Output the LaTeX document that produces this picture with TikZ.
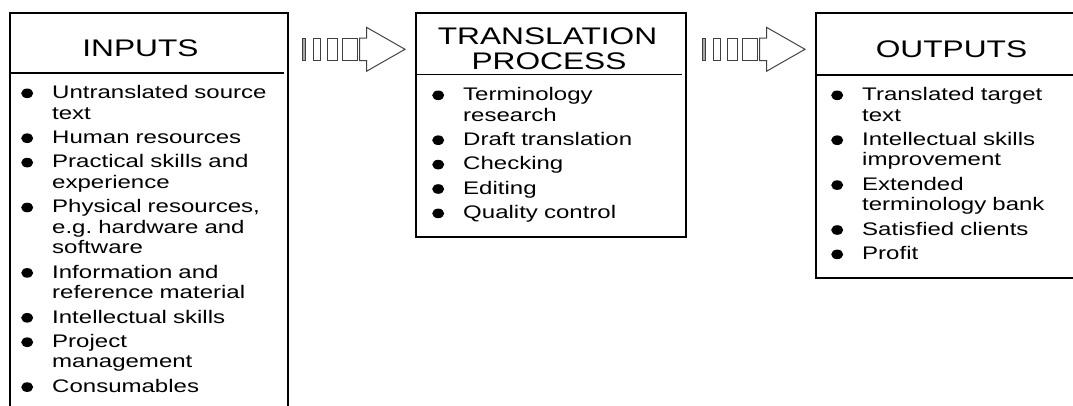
\documentclass[tikz,border=0pt]{standalone}
\usepackage{fontspec}
\setmainfont{Liberation Sans}[FakeStretch=1.32]
\usetikzlibrary{calc}

% round bullet drawn as a filled ellipse sitting at x-height
\newcommand\bulletdot{\tikz[baseline=0pt]{\path (0pt,0pt) rectangle (12pt,10.2pt);\fill (6pt,5.2pt) ellipse [x radius=6pt, y radius=4.8pt];}}
% bullet list item with a hanging indent; each item ends its own paragraph
\newcommand\bitem[1]{\hangindent=30pt\hangafter=1\noindent
  \makebox[30pt][l]{\hspace*{-1pt}\bulletdot}#1\par}

\tikzset{
  frame/.style={draw=black, line width=1.5pt, rectangle, inner sep=0pt,
    outer sep=0pt, anchor=north west},
  heading/.style={font=\fontsize{24}{25}\selectfont, inner sep=0pt, anchor=base},
  itemlist/.style={font=\fontsize{18.2}{20.5}\selectfont, inner sep=0pt,
    anchor=base west, text width=#1,
    execute at begin node={\setlength{\parskip}{3.9pt}\raggedright\frenchspacing}},
  stripe/.style={draw=black!75, line width=1pt},
  striped arrow/.pic={
    \draw[stripe, fill=black!35] (0,-11.2) rectangle (3.3,11.2);
    \draw[stripe] (11,-11.2) rectangle (18.7,11.2);
    \draw[stripe] (25.3,-11.2) rectangle (35.3,11.2);
    \draw[stripe] (40.3,-11.2) rectangle (55.3,11.2);
    \draw[stripe, line join=miter] (57.7,-11.2) -- (64.5,-11.2) -- (64.5,-22)
      -- (103,0) -- (64.5,22) -- (64.5,11.2) -- (57.7,11.2) -- cycle;
  },
}

\begin{document}
\begin{tikzpicture}[x=1pt, y=-1pt]
\useasboundingbox (0,0) rectangle (1073,405);
\clip (0,0) rectangle (1073,405);

% box frames
\node[frame, minimum width=278pt, minimum height=410pt] (inbox) at (10,13) {};
\node[frame, minimum width=270pt, minimum height=224pt] (tpbox) at (416,13) {};
\node[frame, minimum width=280pt, minimum height=265pt] (outbox) at (816,13) {};

% header dividers
\draw[line width=1.5pt] ([yshift=-60pt]inbox.north west) -- ([yshift=-60pt, xshift=-4pt]inbox.north east);
\draw[line width=1.5pt] ([yshift=-61.5pt]tpbox.north west) -- ([yshift=-61.5pt, xshift=-4pt]tpbox.north east);
\draw[line width=1.5pt] ([yshift=-62pt]outbox.north west) -- ([yshift=-62pt]outbox.north east);

% headings
\node[heading] (intitle) at (140.5,56) {INPUTS};
\node[heading] (tptitle) at (547.5,44) {TRANSLATION};
\node[heading] (tptitleb) at (549,69.5) {PROCESS};
\node[heading] (outtitle) at (951.5,57.5) {OUTPUTS};

% item lists
\node[itemlist=255pt] (inlist) at (22,98.5) {%
  \bitem{Untranslated source\newline text}%
  \bitem{Human resources}%
  \bitem{Practical skills and\newline experience}%
  \bitem{Physical resources,\newline e.g. hardware and\newline software}%
  \bitem{Information and\newline reference material}%
  \bitem{Intellectual skills}%
  \bitem{Project\newline management}%
  \bitem{Consumables}};
\node[itemlist=245pt] (tplist) at (433,100.5) {%
  \bitem{Terminology\newline research}%
  \bitem{Draft translation}%
  \bitem{Checking}%
  \bitem{Editing}%
  \bitem{Quality control}};
\node[itemlist=235pt] (outlist) at (832,100.5) {%
  \bitem{Translated target\newline text}%
  \bitem{Intellectual skills\newline improvement}%
  \bitem{Extended\newline terminology bank}%
  \bitem{Satisfied clients}%
  \bitem{Profit}};

% striped arrows between the boxes
\pic (arrowa) at (302,49.3) {striped arrow};
\pic (arrowb) at (702,49.3) {striped arrow};
\end{tikzpicture}
\end{document}
